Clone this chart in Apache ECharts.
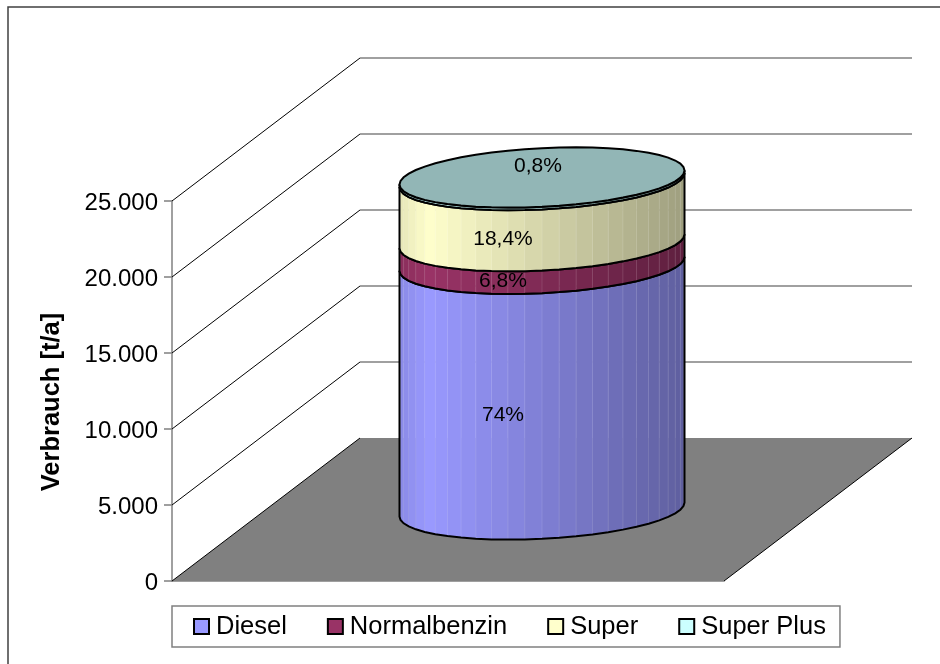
<!DOCTYPE html>
<html>
<head>
<meta charset="utf-8">
<style>html,body{margin:0;padding:0;background:#fff}#chart{width:940px;height:664px}</style>
<script src="https://cdn.jsdelivr.net/npm/echarts@6/dist/echarts.min.js"></script>
</head>
<body>
<div id="chart"></div>
<script>
// data
var categories = [''];
var fuelNames = ['Diesel', 'Normalbenzin', 'Super', 'Super Plus'];
var fuelValues = [16160, 1490, 4020, 175];
var shareLabels = ['74%', '6,8%', '18,4%', '0,8%'];
var yTicks = [0, 5000, 10000, 15000, 20000, 25000];

var fuelColors = ['#9999FF', '#993366', '#FFFFCC', '#CCFFFF'];
var labelShift = [[-39, 29], [-39, 29], [-39, 29], [-4, -13]];
var depthX = 188, depthY = -143;
var radiusX = 142.5, radiusY = 29.3, tilt = -7;
var fontName = '"Liberation Sans", Arial, sans-serif';

var stackBase = [];
var sum = 0;
fuelValues.forEach(function (v) { stackBase.push(sum); sum += v; });

function rimPoint(cx, cy, t) {
    return [cx + radiusX * Math.cos(t), cy + radiusY * Math.sin(t) + tilt * Math.cos(t)];
}
function shade(hex, u) {
    var s = u < -0.8 ? 0.9 + 0.1 * (u + 1) / 0.2 : 1 - 0.38 * (u + 0.8) / 1.8;
    var r = parseInt(hex.substr(1, 2), 16), g = parseInt(hex.substr(3, 2), 16), b = parseInt(hex.substr(5, 2), 16);
    return 'rgb(' + Math.round(r * s) + ',' + Math.round(g * s) + ',' + Math.round(b * s) + ')';
}

// floor, side lines and back wall lines
function renderWalls(params, api) {
    var origin = api.coord([0, 0]);
    var band = api.size([1, 0])[0];
    var left = origin[0] - band / 2, right = origin[0] + band / 2;
    var children = [{
        type: 'polygon',
        shape: {points: [[left, origin[1]], [left + depthX, origin[1] + depthY], [right + depthX, origin[1] + depthY], [right, origin[1]]]},
        style: {fill: '#808080'}
    }, {
        type: 'line',
        shape: {x1: right, y1: origin[1], x2: right + depthX, y2: origin[1] + depthY},
        style: {stroke: '#000', lineWidth: 1}
    }];
    yTicks.forEach(function (tick) {
        var y = api.coord([0, tick])[1];
        children.push({
            type: 'line',
            shape: {x1: left, y1: y, x2: left + depthX, y2: y + depthY},
            style: {stroke: '#000', lineWidth: 1}
        });
        if (tick > 0) {
            children.push({
                type: 'line',
                shape: {x1: left + depthX, y1: y + depthY, x2: right + depthX, y2: y + depthY},
                style: {stroke: '#808080', lineWidth: 1.5}
            });
        }
    });
    return {type: 'group', children: children};
}

function renderSegment(index) {
    return function (params, api) {
        var bottom = api.coord([0, stackBase[index]]);
        var top = api.coord([0, stackBase[index] + fuelValues[index]]);
        var cx = bottom[0] + depthX / 2;
        var cyBottom = bottom[1] + depthY / 2, cyTop = top[1] + depthY / 2;
        var steps = 26, children = [], frontBottom = [], frontTop = [];
        for (var i = 0; i <= steps; i++) {
            var t = Math.PI * i / steps;
            frontBottom.push(rimPoint(cx, cyBottom, t));
            frontTop.push(rimPoint(cx, cyTop, t));
        }
        for (var j = 0; j < steps; j++) {
            var u = (frontBottom[j][0] + frontBottom[j + 1][0] - 2 * cx) / (2 * radiusX);
            var fill = shade(fuelColors[index], u);
            children.push({
                type: 'polygon',
                shape: {points: [frontBottom[j], frontBottom[j + 1], frontTop[j + 1], frontTop[j]]},
                style: {fill: fill, stroke: fill, lineWidth: 0.6}
            });
        }
        // faint seams between the facets
        for (var m = 1; m < steps; m++) {
            children.push({
                type: 'line',
                shape: {x1: frontBottom[m][0], y1: frontBottom[m][1], x2: frontTop[m][0], y2: frontTop[m][1]},
                style: {stroke: '#fff', opacity: 0.12, lineWidth: 1}
            });
        }
        children.push({
            type: 'polyline',
            shape: {points: [frontTop[0]].concat(frontBottom, [frontTop[steps]])},
            style: {fill: null, stroke: '#000', lineWidth: 2}
        });
        children.push({
            type: 'polyline',
            shape: {points: frontTop},
            style: {fill: null, stroke: '#000', lineWidth: 2}
        });
        if (index === fuelValues.length - 1) {
            var rim = [];
            for (var k = 0; k < 2 * steps; k++) {
                rim.push(rimPoint(cx, cyTop, Math.PI * k / steps));
            }
            children.push({
                type: 'polygon',
                shape: {points: rim},
                style: {fill: shade(fuelColors[index], 0.55), stroke: '#000', lineWidth: 2}
            });
        }
        children.push({
            type: 'text',
            z2: 100,
            x: cx + labelShift[index][0],
            y: (cyBottom + cyTop) / 2 + labelShift[index][1],
            style: {text: shareLabels[index], fill: '#000', font: '21px ' + fontName, textAlign: 'center', textVerticalAlign: 'middle'}
        });
        return {type: 'group', children: children};
    };
}

var seriesList = [{type: 'custom', renderItem: renderWalls, data: [[0, 0]], silent: true, clip: false}];
fuelNames.forEach(function (name, i) {
    seriesList.push({
        name: name,
        type: 'custom',
        renderItem: renderSegment(i),
        data: [[0, fuelValues[i]]],
        itemStyle: {color: fuelColors[i]},
        clip: false
    });
});

var myChart = echarts.init(document.getElementById('chart'), null, {renderer: 'canvas'});
myChart.setOption({
    animation: false,
    backgroundColor: '#fff',
    grid: {left: 172, top: 201, width: 552, height: 380},
    xAxis: {
        type: 'category',
        data: categories,
        axisLine: {lineStyle: {color: '#808080', width: 1.5}},
        axisTick: {show: false},
        axisLabel: {show: false}
    },
    yAxis: {
        type: 'value',
        min: 0,
        max: 25000,
        interval: 5000,
        axisLine: {show: true, lineStyle: {color: '#808080', width: 1.5}},
        axisTick: {show: true, length: 8, lineStyle: {color: '#808080', width: 1.5}},
        axisLabel: {
            margin: 14,
            color: '#000',
            fontFamily: fontName,
            fontSize: 24,
            verticalAlign: 'top',
            lineHeight: 4,
            formatter: function (v) {
                return String(v).replace(/\B(?=(\d{3})+$)/g, '.');
            }
        },
        splitLine: {show: false}
    },
    legend: {
        data: fuelNames,
        left: 172,
        top: 606,
        orient: 'horizontal',
        padding: [7.5, 14, 7.5, 21],
        itemGap: 40,
        itemWidth: 15,
        itemHeight: 15,
        icon: 'rect',
        selectedMode: false,
        backgroundColor: '#fff',
        borderColor: '#808080',
        borderWidth: 1.5,
        itemStyle: {borderColor: '#000', borderWidth: 2},
        textStyle: {color: '#000', fontFamily: fontName, fontSize: 25.5, padding: [0, 0, 0, 2]}
    },
    graphic: [{
        type: 'rect',
        silent: true,
        shape: {x: 8, y: 7, width: 1000, height: 800},
        style: {fill: null, stroke: '#404040', lineWidth: 1.5}
    }, {
        type: 'text',
        x: 52,
        y: 402,
        rotation: Math.PI / 2,
        style: {text: 'Verbrauch [t/a]', fill: '#000', font: 'bold 25.5px ' + fontName, textAlign: 'center', textVerticalAlign: 'middle'}
    }],
    series: seriesList
});
</script>
</body>
</html>
